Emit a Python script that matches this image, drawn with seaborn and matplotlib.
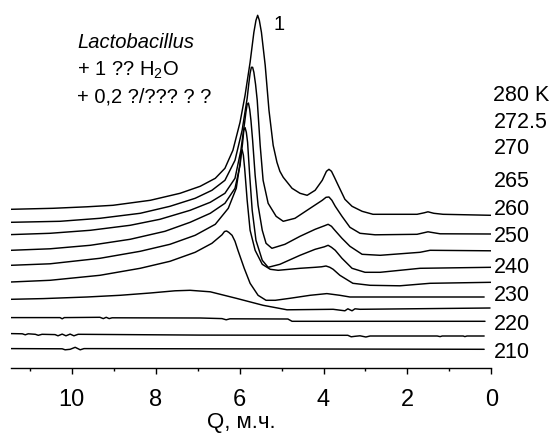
import matplotlib
matplotlib.use("Agg")
import numpy as np
import pandas as pd
import matplotlib.pyplot as plt
import seaborn as sns
from matplotlib.ticker import MultipleLocator

# ---------------- data (chemical shift, ppm ; intensity, a.u. incl. stacking offset) -------------
shift_280 = [11.45, 10.45, 9.64, 9.02, 8.13, 7.42, 6.94, 6.58, 6.35, 6.16, 5.99, 5.87, 5.75, 5.66, 5.61,
             5.57, 5.53, 5.48, 5.39, 5.30, 5.20, 5.11, 5.04, 4.96, 4.75, 4.56, 4.39, 4.20, 4.03, 3.93,
             3.87, 3.81, 3.74, 3.65, 3.49, 3.32, 3.08, 2.82, 1.77, 1.60, 1.51, 1.37, 1.15, 0.0]
int_280 = [159, 160, 161.5, 163, 168, 175, 182, 190, 200, 218, 246, 273, 306, 336, 348,
           353, 348, 336, 303, 258, 223, 206, 197, 191, 180, 175, 173, 178, 188, 197,
           199, 197, 191, 183, 169, 162, 157, 154, 154, 155.5, 156.5, 155, 154, 153]

shift_2725 = [11.45, 10.28, 9.33, 8.37, 7.66, 7.06, 6.66, 6.35, 6.11, 5.94, 5.82, 5.78, 5.75, 5.72, 5.69,
              5.66, 5.62, 5.58, 5.51, 5.44, 5.32, 5.13, 4.96, 4.68, 4.32, 4.03, 3.94, 3.87, 3.80, 3.72,
              3.56, 3.37, 3.13, 2.77, 1.77, 1.51, 1.22, 0.0]
int_2725 = [146, 147, 150, 155, 162, 170, 178, 188, 208, 238, 270, 285, 295, 301, 301,
            296, 284, 268, 223, 188, 165, 152, 147, 150, 160, 168, 171, 171.3, 168, 162,
            152, 141, 135, 133.5, 134, 136.5, 134.5, 134.3]

shift_270 = [11.45, 10.52, 9.56, 8.61, 7.90, 7.18, 6.70, 6.35, 6.11, 5.97, 5.88, 5.85, 5.82, 5.79, 5.76,
             5.73, 5.69, 5.63, 5.56, 5.46, 5.37, 5.23, 4.92, 4.56, 4.20, 3.98, 3.89, 3.81, 3.75, 3.56,
             3.37, 3.08, 2.65, 1.70, 1.46, 0.0]
int_270 = [133.7, 135, 138, 143, 149, 158, 166, 175, 190, 218, 246, 256, 264, 265.3, 259,
           248, 228, 193, 163, 138, 125, 120, 124, 132, 139, 142.5, 144, 142, 139, 130,
           122, 114, 113, 116, 118, 117.5]

shift_265 = [11.45, 10.52, 9.56, 8.61, 7.78, 7.18, 6.70, 6.35, 6.11, 5.99, 5.93, 5.90, 5.87, 5.84, 5.81,
             5.76, 5.70, 5.61, 5.46, 5.32, 5.04, 4.56, 4.20, 3.98, 3.89, 3.81, 3.72, 3.56, 3.32, 3.01,
             2.65, 1.70, 0.0]
int_265 = [118, 119.5, 123, 129, 137, 146, 155, 165, 180, 203, 225, 238, 240.7, 236, 226,
           193, 158, 128, 108, 101, 104, 113, 119, 121.5, 123, 121, 118, 110, 100, 96,
           96, 100, 101]

shift_260 = [11.45, 10.52, 9.33, 8.37, 7.66, 7.06, 6.58, 6.27, 6.08, 5.99, 5.97, 5.94, 5.91, 5.88, 5.82,
             5.75, 5.63, 5.46, 5.27, 5.08, 4.56, 4.20, 4.05, 3.94, 3.85, 3.77, 3.61, 3.30, 2.89, 2.18,
             1.46, 0.0]
int_260 = [103, 104.5, 110, 117, 124, 133, 144, 160, 180, 205, 215, 218.5, 213, 200, 168,
           138, 118, 104, 99, 98, 100, 101, 101.5, 102.3, 101, 99, 93, 85, 83, 82.5,
           85, 86]

shift_250 = [11.45, 10.52, 9.33, 8.37, 7.66, 7.06, 6.66, 6.42, 6.36, 6.31, 6.26, 6.18, 6.11, 6.04, 5.89,
             5.75, 5.56, 5.37, 5.15, 4.80, 4.32, 3.92, 3.61, 3.37, 2.18, 0.17]
int_250 = [86.3, 88, 93, 100, 107, 116, 125, 133.5, 136.8, 137.3, 136, 133, 127, 118, 100,
           85, 73, 68, 68, 70, 73, 74.7, 73, 71.3, 71.3, 71.3]

shift_240 = [11.45, 10.68, 9.64, 8.85, 8.13, 7.54, 7.18, 6.70, 6.08, 5.44, 4.87, 3.77, 3.49, 3.42, 3.32,
             3.25, 3.13, 0.03]
int_240 = [69, 69.7, 71.3, 73, 75.3, 77.5, 78, 76.5, 70, 63, 58.5, 59, 57.5, 59.5, 57.5,
           59.5, 59, 60.3]

shift_230 = [11.45, 10.28, 10.23, 10.18, 9.33, 9.25, 9.18, 9.11, 9.04, 6.94, 6.42, 6.32, 6.23, 4.85,
             4.75, 0.15]
int_230 = [50.7, 50.7, 49.5, 50.7, 51, 49.7, 51, 49.7, 50.5, 50.3, 49.7, 48.5, 49.5, 49.3,
           47, 47]

shift_220 = [11.45, 11.18, 11.11, 11.04, 10.87, 10.80, 10.71, 10.40, 10.33, 10.23, 10.14, 10.04, 9.95,
             9.85, 6.94, 3.42, 3.34, 3.25, 3.13, 2.99, 2.89, 1.29, 1.22, 1.17, 0.67, 0.63, 0.58, 0.17]
int_220 = [34.7, 34.5, 33.5, 34.5, 34, 33, 34, 33.7, 32.5, 34.2, 32.5, 34.2, 32.5,
           34, 33.2, 33, 31.5, 32, 32.5, 31.3, 32.3, 32.3, 31.7, 32.3, 32.3, 31.7, 32.3, 32.3]

shift_210 = [11.45, 10.23, 10.16, 10.04, 9.92, 9.80, 9.71, 0.17]
int_210 = [19.7, 19.5, 18.5, 19, 21, 18.5, 19.7, 19]

temperatures = ["210", "220", "230", "240", "250", "260", "265", "270", "272.5", "280 K"]
series = [(shift_210, int_210), (shift_220, int_220), (shift_230, int_230), (shift_240, int_240),
          (shift_250, int_250), (shift_260, int_260), (shift_265, int_265), (shift_270, int_270),
          (shift_2725, int_2725), (shift_280, int_280)]
# temperature label heights (same intensity units)
label_levels = [15.5, 44, 72.5, 100.5, 131.3, 159, 187, 219.5, 246, 273]

title_lines = ["Lactobacillus", "+ 1 ?? H$_2$O", "+ 0,2 ?/??? ? ?"]
peak_label = "1"
x_label = "Q, м.ч."

# ---------------- build long table ----------------
frames = []
for t, (s, i) in zip(temperatures, series):
    frames.append(pd.DataFrame({"shift": s, "intensity": i, "temp": t}))
df = pd.concat(frames, ignore_index=True)

# ---------------- style ----------------
sns.set_style("white")
plt.rcParams["font.family"] = ["Liberation Sans", "DejaVu Sans"]
plt.rcParams["mathtext.fontset"] = "custom"
plt.rcParams["mathtext.rm"] = "Liberation Sans"
plt.rcParams["mathtext.it"] = "Liberation Sans:italic"
for k in ["text.color", "axes.labelcolor", "xtick.color", "axes.edgecolor"]:
    plt.rcParams[k] = "black"

fig = plt.figure(figsize=(5.57, 4.38), dpi=100)
ax = fig.add_axes([11 / 557, 69.7 / 438, 480.3 / 557, 360 / 438])

sns.lineplot(data=df, x="shift", y="intensity", units="temp", estimator=None, sort=False,
             color="black", lw=1.05, ax=ax, legend=False)

ax.set_xlim(11.45, 0)
ax.set_ylim(0, 360)
ax.xaxis.set_major_locator(MultipleLocator(2))
ax.xaxis.set_minor_locator(MultipleLocator(1))
ax.yaxis.set_visible(False)
sns.despine(ax=ax, left=True, top=True, right=True)
ax.spines["bottom"].set_linewidth(1.0)
ax.tick_params(axis="x", which="major", bottom=True, direction="out", length=4.6, width=1.0,
               labelsize=17, pad=10)
ax.tick_params(axis="x", which="minor", bottom=True, direction="out", length=2.3, width=1.0)

ax.set_xlabel(x_label, fontsize=16)
ax.xaxis.set_label_coords((241.5 - 11) / 480.3, (368.3 - 412) / 360)

for t, lv in zip(temperatures, label_levels):
    ax.text(-0.05, lv, t, ha="left", va="center", fontsize=15.5, clip_on=False)

ax.text(9.87, 326, title_lines[0], ha="left", va="center", fontsize=14.5, style="italic")
ax.text(9.87, 298, title_lines[1], ha="left", va="center", fontsize=14.5)
ax.text(9.87, 271.5, title_lines[2], ha="left", va="center", fontsize=14.5)
ax.text(5.20, 344, peak_label, ha="left", va="center", fontsize=14.5)

fig.savefig("out.png", dpi=100)
